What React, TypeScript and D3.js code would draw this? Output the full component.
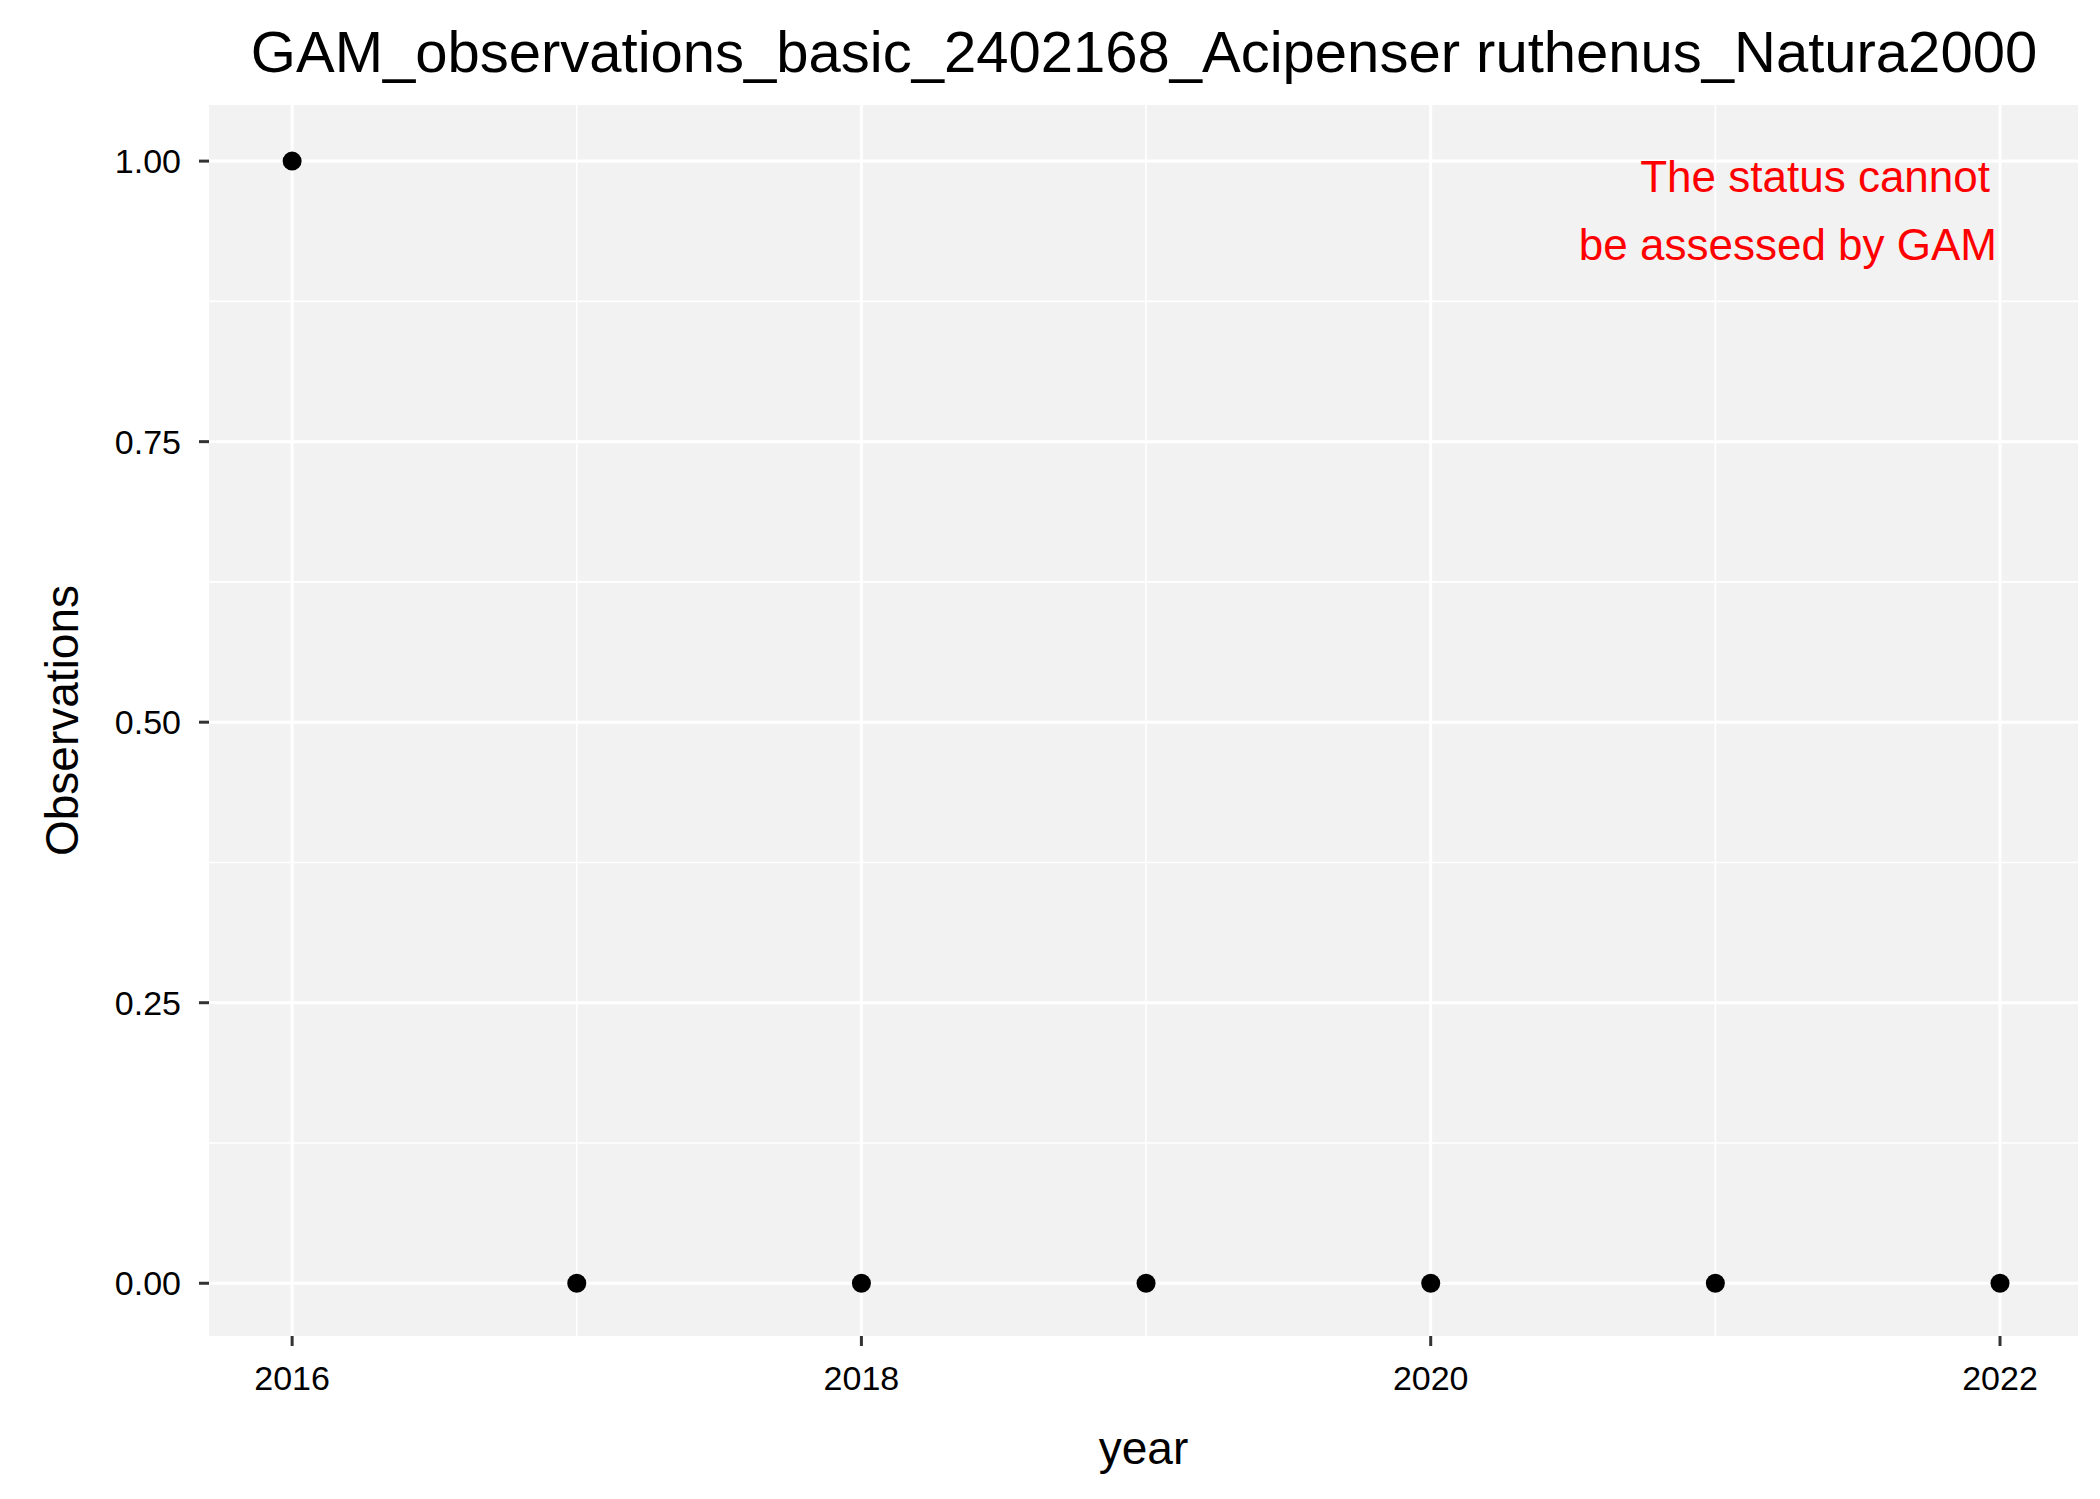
import React from "react";
import * as d3 from "d3";

const years = [2016, 2017, 2018, 2019, 2020, 2021, 2022];
const observations = [1, 0, 0, 0, 0, 0, 0];
const xTicks = [2016, 2018, 2020, 2022];
const yTicks = [0, 0.25, 0.5, 0.75, 1];
const title = "GAM_observations_basic_2402168_Acipenser ruthenus_Natura2000";
const note = ["The status cannot", "be assessed by GAM"];

export default function App() {
  const W = 2100, H = 1499;
  const L = 209, R = 2078, T = 105, B = 1336;
  const x = d3.scaleLinear().domain([2015.708, 2022.274]).range([L, R]);
  const y = d3.scaleLinear().domain([-0.047, 1.05]).range([B, T]);
  const font = "Liberation Sans, Arial, sans-serif";
  const minorX = d3.range(2017, 2022, 2);
  const minorY = [0.125, 0.375, 0.625, 0.875];
  return (
    <svg width={W} height={H} style={{ position: "absolute", left: 0, top: 0, background: "#fff" }} fontFamily={font}>
      <rect x={L} y={T} width={R - L} height={B - T} fill="#f2f2f2" />
      {minorX.map(v => <line key={"mx" + v} x1={x(v)} x2={x(v)} y1={T} y2={B} stroke="#fff" strokeWidth={1.6} />)}
      {minorY.map(v => <line key={"my" + v} x1={L} x2={R} y1={y(v)} y2={y(v)} stroke="#fff" strokeWidth={1.6} />)}
      {xTicks.map(v => <line key={"gx" + v} x1={x(v)} x2={x(v)} y1={T} y2={B} stroke="#fff" strokeWidth={3} />)}
      {yTicks.map(v => <line key={"gy" + v} x1={L} x2={R} y1={y(v)} y2={y(v)} stroke="#fff" strokeWidth={3} />)}
      {xTicks.map(v => (
        <g key={"tx" + v}>
          <line x1={x(v)} x2={x(v)} y1={B} y2={B + 10} stroke="#333" strokeWidth={3} />
          <text x={x(v)} y={1390} textAnchor="middle" fontSize={34} fill="#000">{v}</text>
        </g>
      ))}
      {yTicks.map(v => (
        <g key={"ty" + v}>
          <line x1={L - 10} x2={L} y1={y(v)} y2={y(v)} stroke="#333" strokeWidth={3} />
          <text x={L - 28} y={y(v)} dy="0.35em" textAnchor="end" fontSize={34} fill="#000">{v.toFixed(2)}</text>
        </g>
      ))}
      {years.map((yr, i) => <circle key={yr} cx={x(yr)} cy={y(observations[i])} r={9.5} fill="#000" />)}
      <text x={(L + R) / 2} y={1464} textAnchor="middle" fontSize={46} fill="#000">year</text>
      <text transform={`translate(78,${(T + B) / 2}) rotate(-90)`} textAnchor="middle" fontSize={46} fill="#000">Observations</text>
      <text x={1144} y={72} textAnchor="middle" fontSize={58} fill="#000">{title}</text>
      <text x={1990} y={192} textAnchor="end" fontSize={44} fill="#ff0000">{note[0]}</text>
      <text x={1997} y={260} textAnchor="end" fontSize={44} fill="#ff0000">{note[1]}</text>
    </svg>
  );
}
